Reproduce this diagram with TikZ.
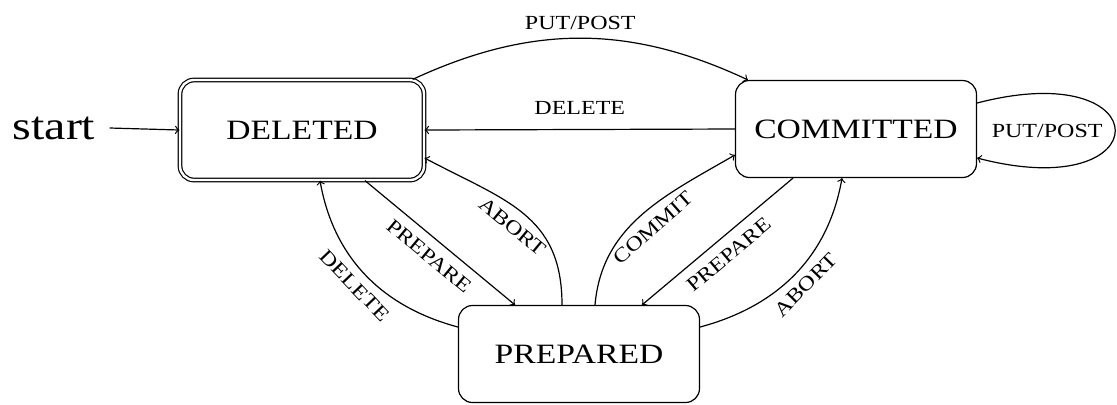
\documentclass[tikz,border=0pt]{standalone}
\usepackage{fontspec}
\setmainfont[FakeStretch=1.2]{Liberation Serif}
\usepackage{tikz}

\tikzset{
	state/.style={shape=rectangle, draw=black, line width=0.6pt, rounded corners=7pt,
		minimum width=120.5pt, minimum height=48.5pt, font=\fontsize{14}{16}\selectfont},
	endstate/.style={double, double distance=1.2pt, minimum width=122pt, minimum height=50pt},
	trans/.style={->, line width=0.6pt},
	lbl/.style={font=\fontsize{10}{12}\selectfont, inner sep=2pt}
}

\begin{document}
\begin{tikzpicture}[x=0.5pt, y=0.5pt]
	\useasboundingbox (0,0) rectangle (1117,-404);

	\node[state,endstate] (del)  at (302, -130) {DELETED};
	\node[state]          (com)  at (856, -129) {COMMITTED};
	\node[state]          (prep) at (579, -354) {PREPARED};
	\node[font=\fontsize{20}{24}\selectfont, inner sep=0pt] (start) at (54, -128) {start};

	% start arrow
	\path[trans] ([xshift=7pt]start.east) edge (del.west);

	% between DELETED and COMMITTED
	\path[trans] ([xshift=-6pt]del.north east) edge[bend left=25]
		node[lbl, above=2pt] {PUT/POST} ([xshift=6.5pt]com.north west);
	\path[trans] (com.west) edge node[lbl, above=5pt] {DELETE} (del.east);
	\draw[trans] ([yshift=13pt]com.east) .. controls +(92pt,24pt) and +(92pt,-24pt) ..
		node[lbl, pos=0.5, left=4pt] {PUT/POST} ([yshift=-14.5pt]com.east);

	% DELETED and PREPARED
	\path[trans] ([xshift=31.5pt]del.south) edge
		node[lbl, sloped, below=3pt] {PREPARE} ([xshift=-32pt]prep.north);
	\path[trans] ([xshift=-8.5pt]prep.north) edge[out=90, in=-28, looseness=1.15]
		node[lbl, sloped, below=3pt] {ABORT} ([yshift=-14pt]del.east);
	\path[trans] ([yshift=13.5pt]prep.west) edge[out=165, in=-80]
		node[lbl, sloped, below=2pt] {DELETE} ([xshift=9pt]del.south);

	% PREPARED and COMMITTED
	\path[trans] ([xshift=8pt]prep.north) edge[out=85, in=-150]
		node[lbl, sloped, below=3pt] {COMMIT} ([yshift=-13pt]com.west);
	\path[trans] ([xshift=-31.5pt]com.south) edge
		node[lbl, sloped, below=3pt] {PREPARE} ([xshift=31.5pt]prep.north);
	\path[trans] ([yshift=13.5pt]prep.east) edge[out=15, in=-100]
		node[lbl, sloped, below=2pt] {ABORT} ([xshift=-7pt]com.south);

\end{tikzpicture}
\end{document}
